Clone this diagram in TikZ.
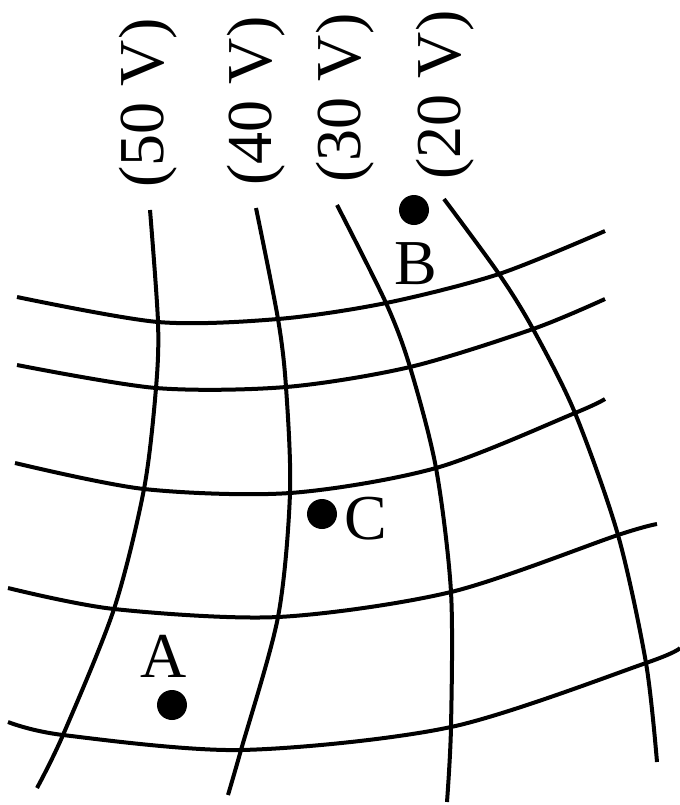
\documentclass[tikz,border=0pt]{standalone}
\usepackage{fontspec}
\setmainfont{Liberation Serif}
\tikzset{
  gridline/.style={line width=2pt},
  charge/.style={circle, fill, inner sep=0pt, minimum size=15pt},
  ptlabel/.style={anchor=base, font=\fontsize{32}{36}\selectfont},
  volt/.style={anchor=base, rotate=90, font=\fontsize{32}{36}\selectfont},
}

\begin{document}
\begin{tikzpicture}[x=0.5pt,y=-0.5pt]
  \useasboundingbox (0,0) rectangle (680,805);
  % equipotential lines
  \draw[gridline] plot[smooth] coordinates {(150,210) (158,322) (156,388) (144,489) (114,609) (63,735) (37,788)};
  \draw[gridline] plot[smooth] coordinates {(256,208) (278,319) (286,387) (290,493) (278,617) (241,750) (228,795)};
  \draw[gridline] plot[smooth] coordinates {(337,205) (386,303) (410,367) (436,468) (451,592) (451,727) (447,802)};
  \draw[gridline] plot[smooth] coordinates {(444,199) (499,274) (533,329) (575,413) (618,535) (646,663) (657,762)};
  % field lines
  \draw[gridline] plot[smooth] coordinates {(17,297) (158,322) (278,319) (386,303) (499,274) (605,231)};
  \draw[gridline] plot[smooth] coordinates {(17,365) (156,388) (286,387) (410,367) (533,329) (605,299)};
  \draw[gridline] plot[smooth] coordinates {(15,463) (144,489) (290,493) (436,468) (575,413) (605,399)};
  \draw[gridline] plot[smooth] coordinates {(8,588) (114,609) (278,617) (451,592) (618,535) (657,524)};
  \draw[gridline] plot[smooth] coordinates {(8,722) (63,735) (241,750) (451,727) (646,663) (680,648)};
  % potentials
  \foreach \v/\x/\y in {50/163/103, 40/271/101, 30/360/98, 20/460/95}
    \node[volt] (v\v) at (\x,\y) {(\v\ V)};
  % points
  \node[charge] (A) at (172,705) {};
  \node[charge] (B) at (414,210) {};
  \node[charge] (C) at (322,514) {};
  \node[ptlabel] (lblA) at (164,677) {A};
  \node[ptlabel] (lblB) at (416,284) {B};
  \node[ptlabel] (lblC) at (366,539) {C};
\end{tikzpicture}
\end{document}
